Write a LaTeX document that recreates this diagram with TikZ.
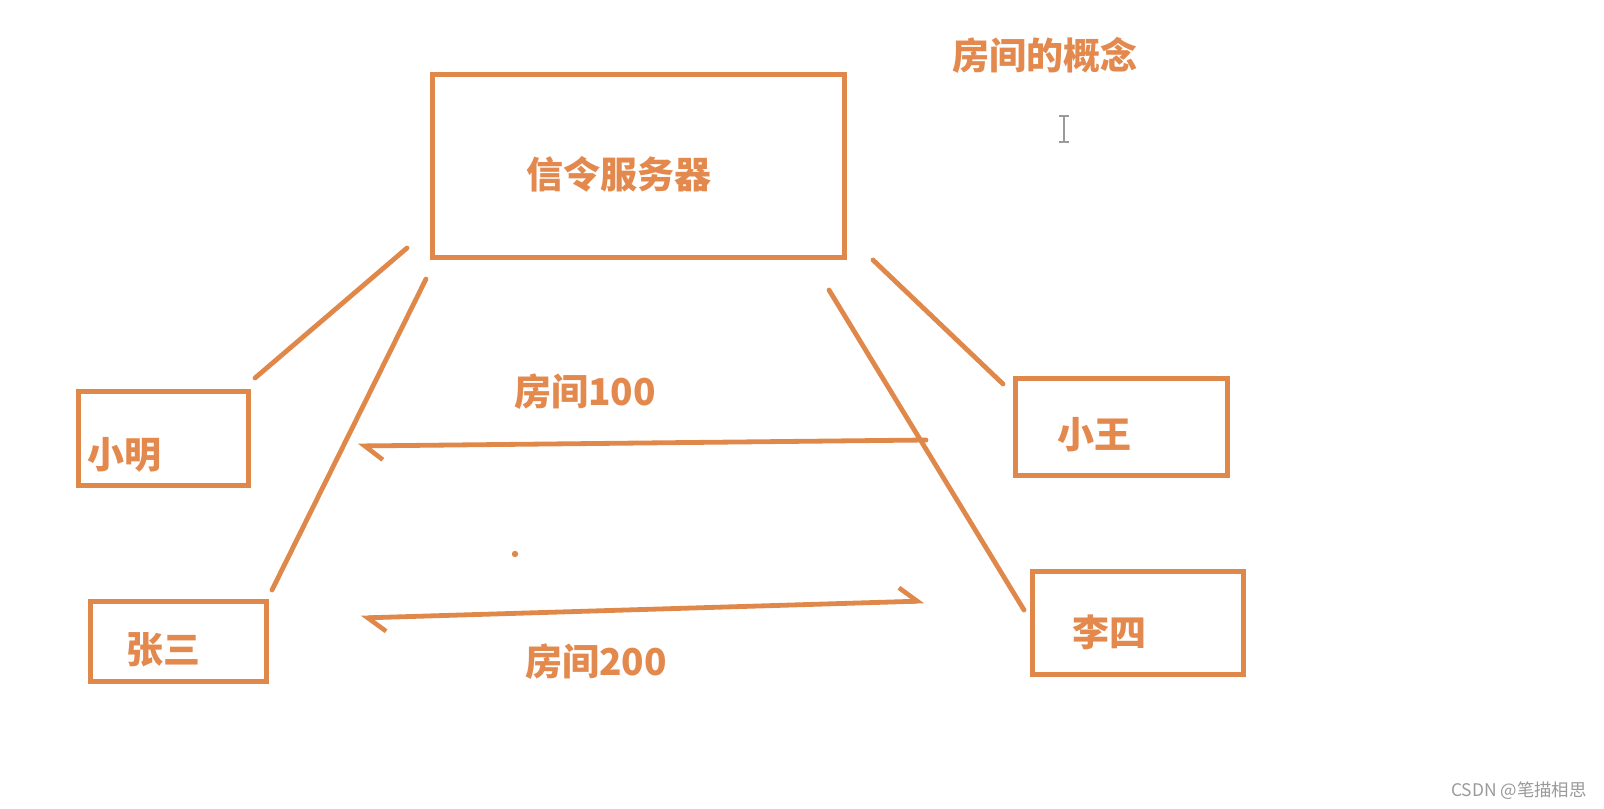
\documentclass[tikz,border=0pt]{standalone}
\usepackage{fontspec}
\newfontfamily\cjk{Noto Sans CJK SC}
\usetikzlibrary{arrows.meta}
\definecolor{org}{HTML}{E0884A}
\definecolor{txt}{HTML}{E3894D}
\definecolor{wm}{HTML}{9A9A9A}
\tikzset{
  hb/.tip={Straight Barb[harpoon,length=9pt,width=14pt,line width=2.3pt]},
  box/.style={draw=org, line width=2.5pt, minimum width=#1, inner sep=0pt},
  lbl/.style={text=txt, font=\cjk\bfseries\fontsize{18.5}{20}\selectfont, inner sep=0pt},
  link/.style={draw=org, line width=2.4pt, line cap=round},
}
\begin{document}
\begin{tikzpicture}[x=0.5pt,y=-0.5pt]
\useasboundingbox[fill=white] (0,0) rectangle (1604,808);
% boxes
\node[box=206pt, minimum height=91pt] (srv) at (638.5,166) {};
\node[box=85pt, minimum height=47pt] (xm) at (163,438) {};
\node[box=88pt, minimum height=40pt] (zs) at (178,641) {};
\node[box=106pt, minimum height=48.5pt] (xw) at (1121.5,427) {};
\node[box=105.5pt, minimum height=51.5pt] (ls) at (1138,623) {};
% labels
\node[lbl] (tsrv) at (619,174) {信令服务器};
\node[lbl] (title) at (1045,55) {房间的概念};
\node[lbl] (txm) at (124,455) {小明};
\node[lbl] (tzs) at (163,650) {张三};
\node[lbl] (txw) at (1094,435) {小王};
\node[lbl] (tls) at (1109,632) {李四};
\node[lbl] (r100) at (585,392) {房间100};
\node[lbl] (r200) at (596,662) {房间200};
% connector end points
\coordinate (a1) at (255,378); \coordinate (a2) at (407,248);
\coordinate (b1) at (272,590); \coordinate (b2) at (426,279);
\coordinate (c1) at (873,260); \coordinate (c2) at (1003,384);
\coordinate (d1) at (829,290); \coordinate (d2) at (1024,610);
\draw[link] (a2) -- (a1);
\draw[link] (b2) -- (b1);
\draw[link] (c1) -- (c2);
\draw[link] (d1) -- (d2);
% room arrows
\coordinate (p1) at (926,440); \coordinate (q1) at (358,446);
\coordinate (p2) at (924,601); \coordinate (q2) at (361,618);
\draw[link, -hb] (p1) -- (q1);
\draw[link, hb-hb] (q2) -- (p2);
% dot
\fill[org] (515,554) circle (1.6pt);
% text cursor
\draw[wm, line width=1pt] (1064,116) -- (1064,142) (1059,116) -- (1069,116) (1059,142) -- (1069,142);
% watermark
\node[text=wm, font=\cjk\fontsize{8.7}{10}\selectfont, inner sep=0pt] (wmk) at (1519,791) {CSDN @笔描相思};
\end{tikzpicture}
\end{document}
